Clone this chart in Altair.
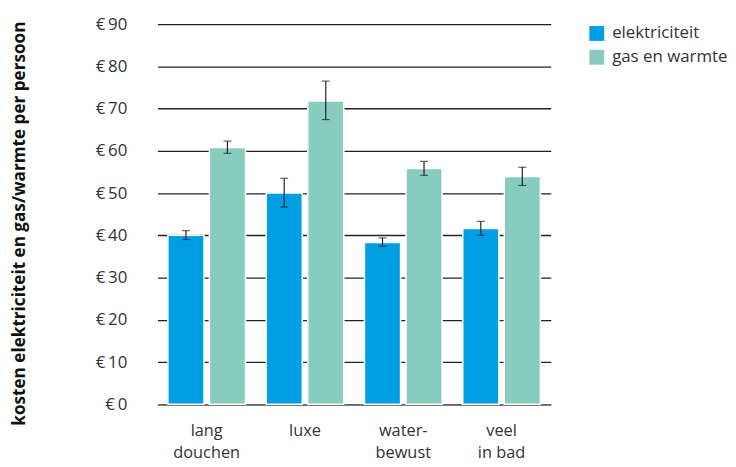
import altair as alt
import pandas as pd

categories = ["lang|douchen", "luxe", "water-|bewust", "veel|in bad"]
series = ["elektriciteit", "gas en warmte"]
elek = [40.0, 50.0, 38.3, 41.6]
elek_low = [39.0, 46.7, 37.4, 40.0]
elek_high = [41.1, 53.5, 39.4, 43.3]
gas = [60.8, 71.8, 55.8, 53.9]
gas_low = [59.4, 67.4, 54.2, 51.8]
gas_high = [62.3, 76.5, 57.5, 56.1]
colors = ["#009fe3", "#88cbbf"]
y_ticks = [0, 10, 20, 30, 40, 50, 60, 70, 80, 90]

rows = []
for i, c in enumerate(categories):
    rows.append(dict(cat=c, serie=series[0], v=elek[i], lo=elek_low[i], hi=elek_high[i]))
    rows.append(dict(cat=c, serie=series[1], v=gas[i], lo=gas_low[i], hi=gas_high[i]))
df = pd.DataFrame(rows)

FONT = "Open Sans"
TXT = "#333333"

x = alt.X("cat:N", sort=categories, title=None,
          scale=alt.Scale(paddingInner=0.21, paddingOuter=0.105),
          axis=alt.Axis(labelExpr="split(datum.label, '|')", labelAngle=0,
                        labelFontSize=16.5, labelLineHeight=23, labelPadding=18,
                        labelColor=TXT, labelFont=FONT, ticks=False,
                        domain=True, domainColor="#666666", domainWidth=1.5))
xo = alt.XOffset("serie:N", sort=series, scale=alt.Scale(paddingInner=0.13, paddingOuter=0))

base = alt.Chart(df)

bars = base.mark_bar(stroke="white", strokeWidth=1.5).encode(
    x=x, xOffset=xo,
    y=alt.Y("v:Q", title="kosten elektriciteit en gas/warmte per persoon",
            scale=alt.Scale(domain=[0, 90]),
            axis=alt.Axis(values=y_ticks, labelExpr="'€\u2009' + datum.value",
                          labelFontSize=17, labelColor=TXT, labelFont=FONT,
                          labelPadding=31, ticks=False, domain=False,
                          grid=True, gridColor="#222222", gridWidth=1.3,
                          titleFont=FONT, titleFontSize=17.3, titleFontWeight="bold",
                          titleColor="#111111", titlePadding=67, titleY=201)),
    color=alt.Color("serie:N", sort=series,
                    scale=alt.Scale(domain=series, range=colors),
                    legend=alt.Legend(title=None, orient="none", legendX=435, legendY=1,
                                      symbolType="square", symbolSize=225,
                                      symbolStrokeWidth=0, labelFontSize=17,
                                      labelFont=FONT, labelColor=TXT, rowPadding=6,
                                      labelOffset=7, padding=0)),
)

rule = base.mark_rule(color="#222222", strokeWidth=1.2).encode(
    x=x, xOffset=xo, y="lo:Q", y2="hi:Q")
cap_lo = base.mark_tick(color="#222222", thickness=1.2, size=8, orient="horizontal").encode(
    x=x, xOffset=xo, y="lo:Q")
cap_hi = base.mark_tick(color="#222222", thickness=1.2, size=8, orient="horizontal").encode(
    x=x, xOffset=xo, y="hi:Q")

chart = alt.layer(bars, rule, cap_lo, cap_hi).properties(
    width=397, height=384, padding={"left": 3, "top": 5, "right": 0, "bottom": 0}
).configure_view(stroke=None).configure_axis(gridOpacity=1)

chart.save("out.html", embed_options={"renderer": "svg", "actions": False})
